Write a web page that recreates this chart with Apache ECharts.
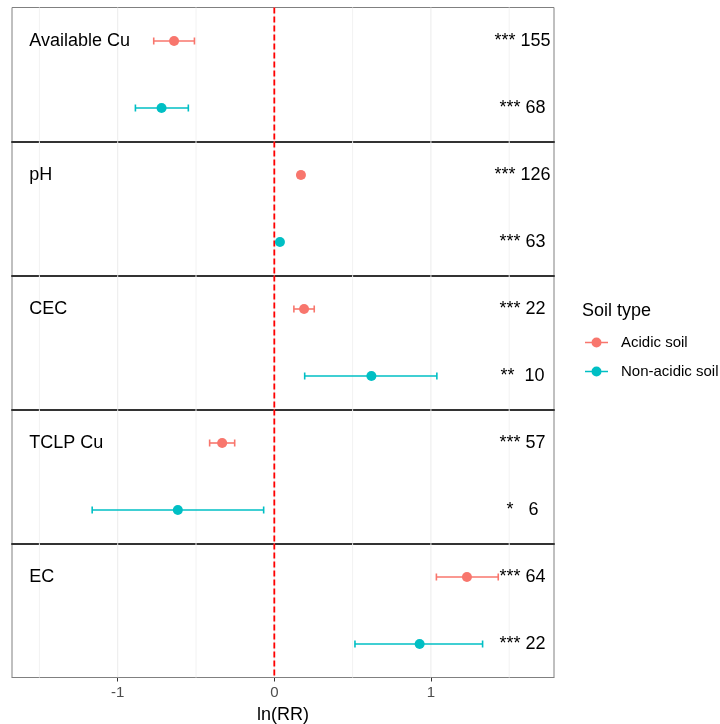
<!DOCTYPE html>
<html>
<head>
<meta charset="utf-8">
<script src="https://cdn.jsdelivr.net/npm/echarts@6/dist/echarts.min.js"></script>
<style>html,body{margin:0;padding:0;background:#fff}#chart{width:720px;height:724px}</style>
</head>
<body>
<div id="chart"></div>
<script>
// ---- data ----
const categories = ['Available Cu', 'pH', 'CEC', 'TCLP Cu', 'EC'];
const seriesNames = ['Acidic soil', 'Non-acidic soil'];
const acidicMean = [-0.64, 0.17, 0.19, -0.333, 1.23];
const acidicLow  = [-0.77, 0.152, 0.125, -0.413, 1.035];
const acidicHigh = [-0.51, 0.188, 0.255, -0.253, 1.43];
const nonMean = [-0.72, 0.036, 0.62, -0.616, 0.928];
const nonLow  = [-0.887, 0.03, 0.194, -1.163, 0.515];
const nonHigh = [-0.549, 0.042, 1.038, -0.068, 1.33];
const acidicStars = ['***', '***', '***', '***', '***'];
const acidicN = [155, 126, 22, 57, 64];
const nonStars = ['***', '***', '**', '*', '***'];
const nonN = [68, 63, 10, 6, 22];
const tickValues = [-1, 0, 1];
const gridBreaks = [-1.5, -1, -0.5, 0, 0.5, 1, 1.5];

// ---- layout / style ----
const font = '"Liberation Sans", Arial, sans-serif';
const colors = ['#F8766D', '#00BFC4'];
const xMin = -1.675, xMax = 1.786;
const panelTop = 7.5, panelH = 134;
const labelX = -1.565, countX = 1.585;

const grids = [], xAxes = [], yAxes = [], series = [];

categories.forEach((cat, i) => {
  const last = i === categories.length - 1;
  grids.push({left: 12, right: 166, top: panelTop + i * panelH, height: panelH,
    outerBoundsMode: 'none', containLabel: false,
    show: true, borderColor: '#808080', borderWidth: 1, backgroundColor: 'transparent'});
  xAxes.push({
    type: 'value', gridIndex: i, min: xMin, max: xMax,
    axisLine: {show: true, onZero: false, lineStyle: last ? {color: '#808080', width: 1} : {color: '#333', width: 2}},
    axisTick: {show: last, customValues: tickValues, length: 4, lineStyle: {color: '#333'}},
    axisLabel: {show: last, customValues: tickValues, fontSize: 15, color: '#4d4d4d', fontFamily: font, margin: 8},
    splitLine: {show: false},
    name: last ? 'ln(RR)' : '', nameLocation: 'middle', nameGap: 29,
    nameTextStyle: {fontSize: 18, color: '#000', fontFamily: font}
  });
  yAxes.push({type: 'value', gridIndex: i, min: 0.5, max: 2.5, inverse: true, show: false});

  // vertical grid lines
  series.push({
    type: 'custom', xAxisIndex: i, yAxisIndex: i, silent: true, z: 1,
    data: gridBreaks.map(v => [v, 1.5]),
    encode: {x: 0, y: 1},
    renderItem: (params, api) => {
      const v = api.value(0);
      const x = api.coord([v, 1.5])[0];
      const cs = params.coordSys;
      const major = tickValues.indexOf(v) >= 0;
      return {type: 'line', shape: {x1: x, y1: cs.y, x2: x, y2: cs.y + cs.height},
        style: {stroke: major ? '#EBEBEB' : '#F2F2F2', lineWidth: 1}};
    }
  });
  // zero reference line
  series.push({
    type: 'custom', xAxisIndex: i, yAxisIndex: i, silent: true, z: 2,
    data: [[0, 1.5]], encode: {x: 0, y: 1},
    renderItem: (params, api) => {
      const x = api.coord([api.value(0), 1.5])[0];
      const cs = params.coordSys;
      return {type: 'line', shape: {x1: x, y1: cs.y, x2: x, y2: cs.y + cs.height},
        style: {stroke: '#FF0000', lineWidth: 1.8, lineDash: [6, 3]}};
    }
  });

  const groups = [
    {mean: acidicMean, low: acidicLow, high: acidicHigh, row: 1},
    {mean: nonMean, low: nonLow, high: nonHigh, row: 2}
  ];
  groups.forEach((g, k) => {
    series.push({
      type: 'scatter', name: seriesNames[k], xAxisIndex: i, yAxisIndex: i, z: 4,
      symbol: 'circle', symbolSize: 10, itemStyle: {color: colors[k], opacity: 1},
      data: [[g.mean[i], g.row]]
    });
    series.push({
      type: 'custom', name: seriesNames[k], xAxisIndex: i, yAxisIndex: i, z: 3,
      itemStyle: {color: colors[k]},
      data: [[g.low[i], g.high[i], g.row]], encode: {x: [0, 1], y: 2},
      renderItem: (params, api) => {
        const p1 = api.coord([api.value(0), api.value(2)]);
        const p2 = api.coord([api.value(1), api.value(2)]);
        const c = 3.5;
        const st = {stroke: colors[k], lineWidth: 1.6};
        return {type: 'group', children: [
          {type: 'line', shape: {x1: p1[0], y1: p1[1], x2: p2[0], y2: p2[1]}, style: st},
          {type: 'line', shape: {x1: p1[0], y1: p1[1] - c, x2: p1[0], y2: p1[1] + c}, style: st},
          {type: 'line', shape: {x1: p2[0], y1: p2[1] - c, x2: p2[0], y2: p2[1] + c}, style: st}
        ]};
      }
    });
  });

  // texts: panel label, significance + n
  const texts = [
    [labelX, 1, cat, 'left'],
    [countX, 1, acidicStars[i].padEnd(3, ' ') + ' ' + acidicN[i], 'center'],
    [countX, 2, nonStars[i].padEnd(3, ' ') + ' ' + nonN[i], 'center']
  ];
  series.push({
    type: 'custom', xAxisIndex: i, yAxisIndex: i, silent: true, z: 5,
    data: texts.map((t, j) => [t[0], t[1], j]), encode: {x: 0, y: 1},
    renderItem: (params, api) => {
      const t = texts[api.value(2)];
      const p = api.coord([api.value(0), api.value(1)]);
      return {type: 'text', x: p[0], y: p[1],
        style: {text: t[2], fill: '#000', font: '18px ' + font, align: t[3], verticalAlign: 'middle'}};
    }
  });
});

const chart = echarts.init(document.getElementById('chart'), null, {renderer: 'canvas'});
chart.setOption({
  animation: false,
  backgroundColor: '#fff',
  title: {text: 'Soil type', left: 582, top: 302, padding: 0,
    textStyle: {fontSize: 18, fontWeight: 'normal', color: '#000', fontFamily: font}},
  legend: {
    orient: 'vertical', left: 585, top: 335, padding: 0,
    itemWidth: 23, itemHeight: 10, itemGap: 14,
    icon: 'path://M0,4.3H23V5.7H0Z M16.5,5A5,5 0 1 1 6.5,5A5,5 0 1 1 16.5,5Z',
    textStyle: {fontSize: 15, color: '#000', fontFamily: font, padding: [0, 0, 0, 8]},
    data: seriesNames, selectedMode: false
  },
  grid: grids, xAxis: xAxes, yAxis: yAxes, series: series
});
</script>
</body>
</html>
